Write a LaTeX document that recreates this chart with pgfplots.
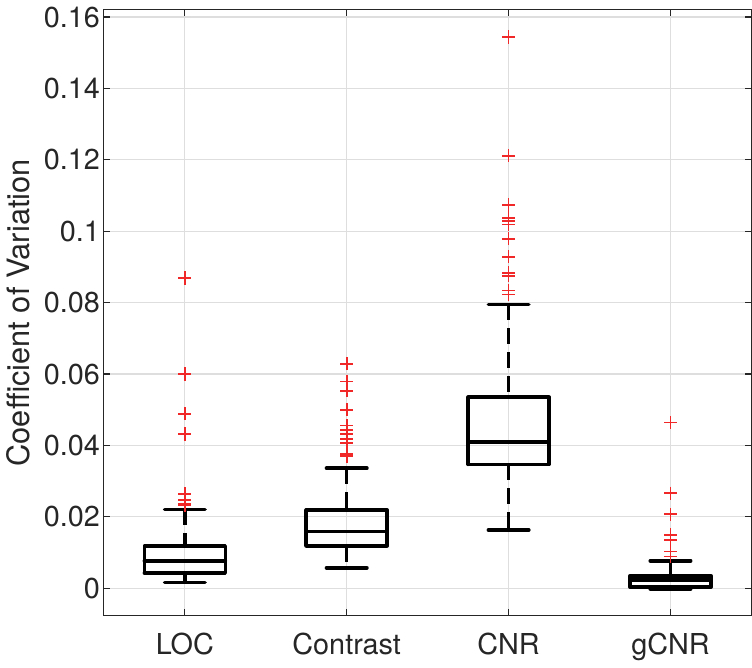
\documentclass[border=0pt]{standalone}
\usepackage{pgfplots}
\pgfplotsset{compat=1.18}
\usepackage{fontspec}
\setmainfont{TeX Gyre Heros}

\definecolor{axgray}{RGB}{38,38,38}
\definecolor{gridgray}{RGB}{222,222,222}
\definecolor{outred}{RGB}{240,40,40}

\pgfplotsset{
  bx/.style={black, line width=1.8pt, line join=round, line cap=round, mark=none, solid},
  wh/.style={black, line width=1.8pt, mark=none, dash pattern=on 8pt off 4pt},
  outl/.style={only marks, mark=+, mark size=3.3pt,
    mark options={draw=outred, line width=0.9pt, solid}},
}

\begin{document}
\begin{tikzpicture}
\begin{axis}[
  width=326pt, height=305pt, scale only axis,
  xmin=0.5, xmax=4.5,
  ymin=-0.0077, ymax=0.162,
  xtick={1,2,3,4},
  xticklabels={LOC,Contrast,CNR,gCNR},
  ytick={0,0.02,0.04,0.06,0.08,0.1,0.12,0.14,0.16},
  scaled y ticks=false,
  yticklabel style={/pgf/number format/fixed, /pgf/number format/precision=2, xshift=1.5pt},
  xticklabel style={yshift=-5pt},
  /pgf/number format/assume math mode=true,
  grid=major,
  major grid style={gridgray, line width=0.6pt},
  axis line style={axgray, line width=0.6pt},
  tick style={axgray, line width=0.6pt},
  tick align=inside,
  major tick length=3.2pt,
  ticklabel style={font=\fontsize{14.5}{17}\selectfont, text=axgray},
  ylabel={Coefficient of Variation},
  ylabel style={font=\fontsize{15.5}{18}\selectfont, text=axgray},
]

% ---- LOC (x=1)
\addplot[wh] coordinates {(1,0.0221) (1,0.0118)};
\addplot[wh] coordinates {(1,0.0043) (1,0.0016)};
\addplot[bx] coordinates {(0.875,0.0221) (1.125,0.0221)};
\addplot[bx] coordinates {(0.875,0.0016) (1.125,0.0016)};
\addplot[bx] coordinates {(0.75,0.0043) (1.25,0.0043) (1.25,0.0118) (0.75,0.0118) (0.75,0.0043)};
\addplot[bx] coordinates {(0.75,0.0077) (1.25,0.0077)};
\addplot[outl] coordinates {(1,0.0869) (1,0.0600) (1,0.0489) (1,0.0432) (1,0.0265) (1,0.0247) (1,0.0237) (1,0.0232)};

% ---- Contrast (x=2)
\addplot[wh] coordinates {(2,0.0336) (2,0.0219)};
\addplot[wh] coordinates {(2,0.0119) (2,0.0057)};
\addplot[bx] coordinates {(1.875,0.0336) (2.125,0.0336)};
\addplot[bx] coordinates {(1.875,0.0057) (2.125,0.0057)};
\addplot[bx] coordinates {(1.75,0.0119) (2.25,0.0119) (2.25,0.0219) (1.75,0.0219) (1.75,0.0119)};
\addplot[bx] coordinates {(1.75,0.0159) (2.25,0.0159)};
\addplot[outl] coordinates {(2,0.0629) (2,0.0579) (2,0.0553) (2,0.0500) (2,0.0456) (2,0.0444) (2,0.0432) (2,0.0418) (2,0.0407) (2,0.0375) (2,0.0370)};

% ---- CNR (x=3)
\addplot[wh] coordinates {(3,0.0795) (3,0.0535)};
\addplot[wh] coordinates {(3,0.0347) (3,0.0163)};
\addplot[bx] coordinates {(2.875,0.0795) (3.125,0.0795)};
\addplot[bx] coordinates {(2.875,0.0163) (3.125,0.0163)};
\addplot[bx] coordinates {(2.75,0.0347) (3.25,0.0347) (3.25,0.0535) (2.75,0.0535) (2.75,0.0347)};
\addplot[bx] coordinates {(2.75,0.0410) (3.25,0.0410)};
\addplot[outl] coordinates {(3,0.1544) (3,0.1211) (3,0.1074) (3,0.1037) (3,0.1028) (3,0.1019) (3,0.0979) (3,0.0928) (3,0.0884) (3,0.0875) (3,0.0834) (3,0.0823)};

% ---- gCNR (x=4)
\addplot[wh] coordinates {(4,0.0077) (4,0.0035)};
\addplot[bx] coordinates {(3.875,0.0077) (4.125,0.0077)};
\addplot[bx] coordinates {(3.875,-0.0002) (4.125,-0.0002)};
\addplot[bx] coordinates {(3.75,0.0003) (4.25,0.0003) (4.25,0.0035) (3.75,0.0035) (3.75,0.0003)};
\addplot[bx] coordinates {(3.75,0.0023) (4.25,0.0023)};
\addplot[outl] coordinates {(4,0.0464) (4,0.0266) (4,0.0207) (4,0.0150) (4,0.0136) (4,0.0103) (4,0.0089)};

\end{axis}
\end{tikzpicture}
\end{document}
